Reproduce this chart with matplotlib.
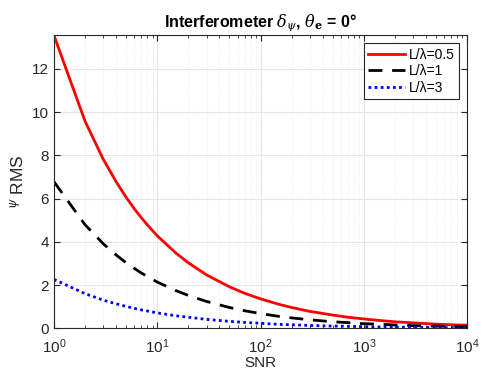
import matplotlib
matplotlib.use("Agg")
import matplotlib.pyplot as plt
from matplotlib.ticker import LogLocator, NullFormatter

plt.rcParams['font.family'] = ['Liberation Sans', 'DejaVu Sans']
plt.rcParams['mathtext.fontset'] = 'dejavuserif'

snr = [1, 2, 3, 4, 5, 6, 7, 8, 9, 10, 15, 20, 30, 50, 70, 100, 150, 200, 300, 500,
       700, 1000, 1500, 2000, 3000, 5000, 7000, 10000]
rms_05 = [13.55, 9.58, 7.82, 6.78, 6.06, 5.53, 5.12, 4.79, 4.52, 4.28, 3.50, 3.03, 2.47,
          1.92, 1.62, 1.36, 1.11, 0.96, 0.78, 0.61, 0.51, 0.43, 0.35, 0.30, 0.25, 0.19,
          0.16, 0.14]
rms_1 = [6.78, 4.79, 3.91, 3.39, 3.03, 2.77, 2.56, 2.40, 2.26, 2.14, 1.75, 1.52, 1.24,
         0.96, 0.81, 0.68, 0.55, 0.48, 0.39, 0.30, 0.26, 0.21, 0.18, 0.15, 0.12, 0.10,
         0.08, 0.07]
rms_3 = [2.26, 1.60, 1.30, 1.13, 1.01, 0.92, 0.85, 0.80, 0.75, 0.71, 0.58, 0.51, 0.41,
         0.32, 0.27, 0.23, 0.18, 0.16, 0.13, 0.10, 0.09, 0.07, 0.06, 0.05, 0.04, 0.03,
         0.03, 0.02]
labels = ['L/λ=0.5', 'L/λ=1', 'L/λ=3']

fig = plt.figure(figsize=(4.82, 3.73), dpi=100)
ax = fig.add_axes([0.112, 0.12, 0.857, 0.786])

ax.plot(snr, rms_05, color='#ff0000', lw=2.0, label=labels[0])
ax.plot(snr, rms_1, color='black', lw=2.0, ls=(0, (5, 3.5)), label=labels[1])
ax.plot(snr, rms_3, color='#0000ff', lw=2.0, ls=(0, (1, 1.2)), label=labels[2])

ax.set_xscale('log')
ax.set_xlim(1, 1e4)
ax.set_ylim(0, 13.57)
ax.set_yticks([0, 2, 4, 6, 8, 10, 12])
ax.xaxis.set_minor_locator(LogLocator(base=10, subs=range(2, 10), numticks=20))
ax.xaxis.set_minor_formatter(NullFormatter())

ax.grid(True, which='major', color='#e6e6e6', lw=0.8)
ax.grid(True, which='minor', axis='x', color='#e6e6e6', lw=0.6, ls=':')
ax.set_axisbelow(True)

for s in ax.spines.values():
    s.set_color('#262626')
    s.set_linewidth(0.8)
ax.tick_params(which='both', direction='in', top=True, right=True,
               labelsize=11, colors='#262626', labelcolor='#262626')
ax.tick_params(which='minor', length=2.5)
ax.tick_params(which='major', length=4)
ax.tick_params(axis='x', which='major', pad=6.5)

ax.set_xlabel('SNR', fontsize=11, color='#262626', labelpad=0)
ax.set_ylabel(r'$^{\psi}$ RMS', fontsize=12.5, color='#262626')
ax.set_title(r'Interferometer $\delta_{\psi}$, $\theta_{\mathbf{e}}$ = 0°',
             fontsize=11.5, fontweight='bold', pad=6)

leg = ax.legend(loc='upper right', fontsize=10, fancybox=False, framealpha=1,
                edgecolor='#262626', handlelength=2.6, handletextpad=0.3,
                borderpad=0.3, labelspacing=0.2, borderaxespad=0.6)
leg.get_frame().set_linewidth(0.8)

fig.savefig('out.png', dpi=100)
